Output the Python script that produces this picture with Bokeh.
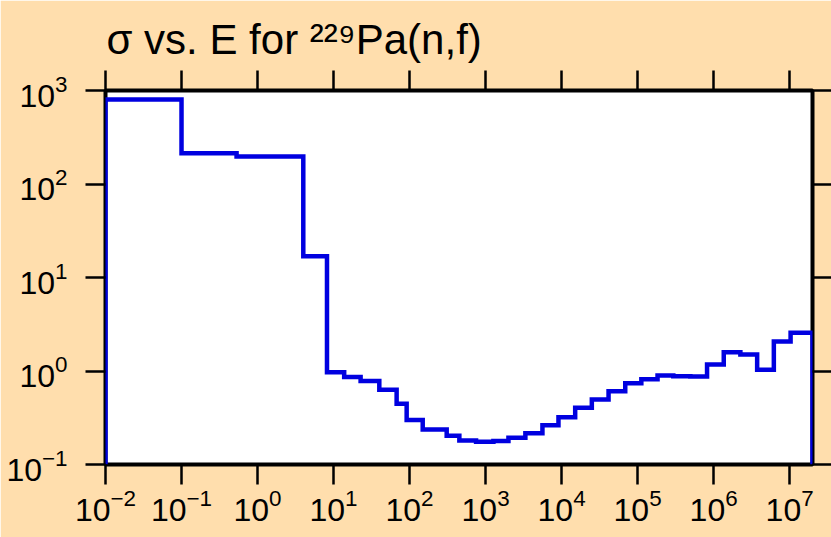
from bokeh.plotting import figure
from bokeh.models import LogAxis, FixedTicker, Range1d, CustomJSTickFormatter, Title
from bokeh.embed import file_html
from bokeh.resources import INLINE

# ---- data ----
bin_edges = [1e-2, 0.1, 0.53, 4.0, 8.2, 13.8, 22.7, 40, 67.6, 91.6, 149, 308, 452, 750,
             1268, 2000, 3340, 5600, 9100, 15100, 25000, 41500, 68800, 112000, 183000,
             295000, 494000, 820000, 1.36e6, 2.25e6, 3.74e6, 6.2e6, 1.03e7, 2.0e7]
sigma = [801, 213, 197, 16.9, 0.97, 0.86, 0.78, 0.63, 0.446, 0.30, 0.237, 0.203, 0.181,
         0.175, 0.178, 0.193, 0.216, 0.263, 0.321, 0.404, 0.495, 0.608, 0.741, 0.817,
         0.895, 0.88, 0.873, 1.17, 1.59, 1.50, 1.03, 2.07, 2.56]
x_ticks = [1e-2, 1e-1, 1e0, 1e1, 1e2, 1e3, 1e4, 1e5, 1e6, 1e7]
y_ticks = [1e-1, 1e0, 1e1, 1e2, 1e3]
x_limits = [1e-2, 2e7]
y_limits = [1e-1, 1e3]
title_text = "σ vs. E for ²²⁹Pa(n,f)"

BG = "#FFDEAD"
BLUE = "#0000E0"
FONT = "Liberation Sans"

# step outline built from the bin edges / values
ymin = y_limits[0]
xs = [bin_edges[0]]
ys = [ymin]
for i, s in enumerate(sigma):
    xs += [bin_edges[i], bin_edges[i + 1]]
    ys += [s, s]
xs.append(bin_edges[-1])
ys.append(ymin)

p = figure(width=831, height=537, x_axis_type="log", y_axis_type="log",
           x_range=Range1d(*x_limits), y_range=Range1d(*y_limits),
           output_backend="svg", toolbar_location=None,
           min_border_left=105, min_border_right=19, min_border_top=90, min_border_bottom=73,
           background_fill_color="white", border_fill_color=BG,
           outline_line_color="black", outline_line_width=4)
p.grid.visible = False

p.line(xs, ys, line_color=BLUE, line_width=4.5, line_join="miter")

bottom = p.below[0]
left = p.left[0]
bottom.ticker = FixedTicker(ticks=x_ticks)
left.ticker = FixedTicker(ticks=y_ticks)

top = LogAxis(ticker=FixedTicker(ticks=x_ticks), formatter=CustomJSTickFormatter(code="return ''"))
right = LogAxis(ticker=FixedTicker(ticks=y_ticks), formatter=CustomJSTickFormatter(code="return ''"))
p.add_layout(top, "above")
p.add_layout(right, "right")

for ax in [bottom, left, top, right]:
    ax.axis_line_color = None
    ax.major_tick_in = 0
    ax.major_tick_out = 20
    ax.major_tick_line_width = 2.5
    ax.major_tick_line_color = "black"
    ax.minor_tick_line_color = None
    ax.major_label_text_font = FONT
    ax.major_label_text_font_size = "32px"
    ax.major_label_text_color = "black"

right.major_tick_out = 19
right.major_label_standoff = 0
top.major_label_standoff = 0
top.major_label_text_font_size = "1px"
bottom.major_label_standoff = 4
left.major_label_standoff = 18

p.title = Title(text=title_text, text_font=FONT, text_font_size="42px",
                text_font_style="normal", text_color="black", align="left",
                offset=1, standoff=15)

open("out.html", "w").write(file_html(p, INLINE))
